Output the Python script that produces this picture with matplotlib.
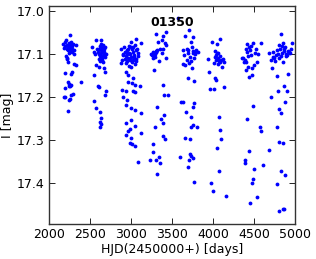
import numpy as np
import matplotlib
matplotlib.use('Agg')
import matplotlib.pyplot as plt

STAR_ID = '01350'

# season 1
hjd_s1 = [2170, 2185, 2195, 2200, 2210, 2215, 2222, 2228, 2232, 2238, 2242, 2248, 2252, 2256, 2260,
          2262, 2266, 2270, 2275, 2280, 2285, 2290, 2300, 2310, 2330, 2212, 2225, 2235, 2245, 2218,
          2190, 2305, 2280, 2272, 2185, 2200, 2195, 2230, 2240, 2250, 2270, 2262, 2255, 2240, 2270,
          2290, 2235, 2390, 2328]
mag_s1 = [17.078, 17.087, 17.082, 17.073, 17.068, 17.080, 17.088, 17.092, 17.083, 17.075, 17.085, 17.090, 17.079, 17.086, 17.057,
          17.094, 17.080, 17.072, 17.088, 17.095, 17.083, 17.077, 17.100, 17.092, 17.080, 17.105, 17.113, 17.120, 17.098, 17.110,
          17.145, 17.125, 17.143, 17.147, 17.200, 17.200, 17.180, 17.165, 17.170, 17.175, 17.173, 17.175, 17.205, 17.208, 17.195,
          17.193, 17.233, 17.165, 17.127]

# season 2
hjd_s2 = [2570, 2639, 2529, 2590, 2600, 2610, 2615, 2620, 2625, 2630, 2635, 2640, 2645, 2650, 2655,
          2660, 2665, 2670, 2675, 2680, 2685, 2695, 2605, 2618, 2632, 2648, 2658, 2672, 2545, 2560,
          2578, 2610, 2668, 2680, 2550, 2598, 2606, 2692, 2680, 2545, 2578, 2627, 2639, 2627, 2631, 2627]
mag_s2 = [17.068, 17.068, 17.084, 17.090, 17.095, 17.100, 17.088, 17.082, 17.105, 17.092, 17.098, 17.078, 17.086, 17.110, 17.094,
          17.080, 17.102, 17.090, 17.096, 17.108, 17.085, 17.100, 17.112, 17.118, 17.106, 17.115, 17.120, 17.104, 17.095, 17.100,
          17.126, 17.130, 17.134, 17.142, 17.150, 17.175, 17.177, 17.186, 17.196, 17.210, 17.227, 17.236, 17.250, 17.258, 17.264, 17.271]

# season 3
hjd_s3 = [3066, 3127, 3005, 2880, 2900, 2915, 2930, 2940, 2950, 2960, 2970, 2980, 2990, 3000, 3010,
          3020, 3030, 3040, 3050, 3060, 3075, 3090, 2925, 2945, 2965, 2985, 3015, 3035, 3055, 3080,
          2905, 2955, 2995, 3025, 3045, 2895, 2935, 2975, 3005, 3065,
          2883, 2936, 2936, 2965, 3026, 2965, 3014, 3054, 3115, 2895, 2936, 3026, 3046, 2903, 2956,
          2944, 2997, 3046, 3127, 3005, 2936, 3046, 2985, 2965, 3123, 2936, 3005, 2993, 3009, 3050, 3087]
mag_s3 = [17.066, 17.074, 17.072, 17.090, 17.100, 17.085, 17.095, 17.105, 17.092, 17.088, 17.098, 17.082, 17.100, 17.108, 17.090,
          17.085, 17.095, 17.102, 17.080, 17.092, 17.088, 17.098, 17.112, 17.118, 17.110, 17.115, 17.120, 17.108, 17.112, 17.105,
          17.103, 17.100, 17.085, 17.115, 17.125, 17.115, 17.095, 17.128, 17.132, 17.118,
          17.122, 17.122, 17.142, 17.150, 17.157, 17.165, 17.169, 17.173, 17.175, 17.184, 17.186, 17.186, 17.190, 17.200, 17.208,
          17.219, 17.227, 17.231, 17.239, 17.254, 17.262, 17.268, 17.276, 17.279, 17.285, 17.289, 17.297, 17.307, 17.311, 17.314, 17.351]

# season 4
hjd_s4 = [3302, 3425, 3372, 3392, 3331, 3409, 3429, 3392, 3351, 3372, 3319, 3278, 3254, 3294, 3270,
          3429, 3262, 3290, 3300, 3310, 3285, 3305, 3240, 3335,
          3278, 3392, 3400, 3453, 3311, 3360, 3384, 3404, 3290, 3392, 3412, 3262, 3270, 3343, 3302,
          3229, 3351, 3319]
mag_s4 = [17.054, 17.049, 17.068, 17.059, 17.072, 17.076, 17.080, 17.088, 17.090, 17.098, 17.091, 17.099, 17.102, 17.107, 17.111,
          17.109, 17.095, 17.100, 17.097, 17.095, 17.104, 17.093, 17.100, 17.118,
          17.138, 17.173, 17.195, 17.195, 17.225, 17.252, 17.260, 17.243, 17.270, 17.291, 17.299, 17.310, 17.329, 17.340, 17.346,
          17.347, 17.355, 17.380]

# season 5
hjd_s5 = [3575, 3705, 3656, 3758, 3725, 3628, 3677, 3738, 3778, 3819, 3795, 3697, 3758, 3717, 3770,
          3677, 3628, 3656, 3709, 3742, 3689, 3770, 3690, 3750, 3640, 3730, 3785,
          3608, 3636, 3766, 3750, 3669, 3725, 3807, 3725, 3758, 3656, 3717, 3595, 3717, 3730, 3758,
          3709, 3689, 3766]
mag_s5 = [17.018, 17.045, 17.059, 17.062, 17.072, 17.091, 17.088, 17.084, 17.095, 17.095, 17.091, 17.099, 17.099, 17.107, 17.111,
          17.115, 17.125, 17.126, 17.122, 17.134, 17.157, 17.163, 17.092, 17.094, 17.104, 17.118, 17.100,
          17.212, 17.213, 17.214, 17.225, 17.235, 17.247, 17.270, 17.270, 17.266, 17.295, 17.299, 17.340, 17.334, 17.337, 17.342,
          17.346, 17.363, 17.398]

# season 6
hjd_s6 = [3990, 4084, 4043, 4027, 4050, 4065, 4080, 4055, 4100, 4127, 3941, 4007, 4108, 4040, 4070,
          4090, 4115, 4020, 4060, 4035, 3949, 4023, 4031, 4133, 3965, 4011,
          4072, 4080, 4092, 4043, 4072, 3969, 4002, 4157]
mag_s6 = [17.072, 17.066, 17.078, 17.094, 17.098, 17.098, 17.106, 17.110, 17.114, 17.119, 17.112, 17.122, 17.130, 17.104, 17.116,
          17.120, 17.112, 17.108, 17.124, 17.114, 17.142, 17.157, 17.161, 17.178, 17.183, 17.183,
          17.248, 17.278, 17.299, 17.320, 17.373, 17.401, 17.419, 17.431]

# season 7
hjd_s7 = [4418, 4491, 4584, 4401, 4348, 4397, 4430, 4478, 4499, 4532, 4401, 4442, 4470, 4370, 4385,
          4415, 4440, 4455, 4465, 4510, 4520, 4460, 4375, 4425, 4545,
          4409, 4483, 4572, 4580, 4385, 4389, 4442, 4499, 4613, 4491, 4475, 4532, 4450]
mag_s7 = [17.078, 17.076, 17.076, 17.088, 17.111, 17.119, 17.130, 17.134, 17.126, 17.119, 17.138, 17.155, 17.150, 17.110, 17.115,
          17.095, 17.085, 17.092, 17.082, 17.098, 17.088, 17.102, 17.120, 17.105, 17.100,
          17.252, 17.222, 17.270, 17.280, 17.347, 17.355, 17.326, 17.369, 17.359, 17.392, 17.400, 17.434, 17.448]

# season 8
hjd_s8 = [4825, 4686, 4735, 4776, 4817, 4849, 4878, 4918, 4959, 4939, 4890, 4809, 4756, 4703, 4857,
          4715, 4795, 4835, 4862, 4900, 4930, 4765, 4725, 4845, 4870, 4805, 4950, 4745, 4885, 4830,
          4918, 4776, 4703, 4796, 4866, 4906, 4878, 4809, 4825, 4784, 4800, 4849, 4682, 4825, 4878,
          4776, 4849, 4866, 4809]
mag_s8 = [17.055, 17.099, 17.096, 17.092, 17.088, 17.074, 17.084, 17.093, 17.076, 17.099, 17.105, 17.111, 17.116, 17.115, 17.119,
          17.134, 17.100, 17.098, 17.090, 17.102, 17.095, 17.104, 17.108, 17.082, 17.094, 17.080, 17.088, 17.110, 17.100, 17.106,
          17.147, 17.153, 17.200, 17.186, 17.175, 17.187, 17.213, 17.229, 17.239, 17.270, 17.305, 17.308, 17.324, 17.373, 17.382,
          17.404, 17.460, 17.462, 17.465]

hjd = np.concatenate([hjd_s1, hjd_s2, hjd_s3, hjd_s4, hjd_s5, hjd_s6, hjd_s7, hjd_s8])
mag = np.concatenate([mag_s1, mag_s2, mag_s3, mag_s4, mag_s5, mag_s6, mag_s7, mag_s8])

FS = 9

fig = plt.figure(figsize=(3.16, 2.59), dpi=100)
ax = fig.add_axes([0.155, 0.135, 0.779, 0.842])
ax.plot(hjd, mag, '.', color='#0000ff', ms=5.5, mew=0)
ax.set_xlim(2000, 5000)
ax.set_ylim(17.496, 16.989)
ax.set_xticks([2000, 2500, 3000, 3500, 4000, 4500, 5000])
ax.set_yticks([17.0, 17.1, 17.2, 17.3, 17.4])
ax.tick_params(direction='in', top=True, right=True, labelsize=FS, length=4, width=0.6, pad=3)
for sp in ax.spines.values():
    sp.set_linewidth(1.0)
    sp.set_color('#333333')
ax.set_xlabel('HJD(2450000+) [days]', fontsize=FS, labelpad=1)
ax.set_ylabel('I [mag]', fontsize=FS, labelpad=2)
ax.text(0.5, 0.925, STAR_ID, transform=ax.transAxes, ha='center', va='center',
        fontsize=9, fontweight='bold')

fig.savefig('out.png', dpi=100)
